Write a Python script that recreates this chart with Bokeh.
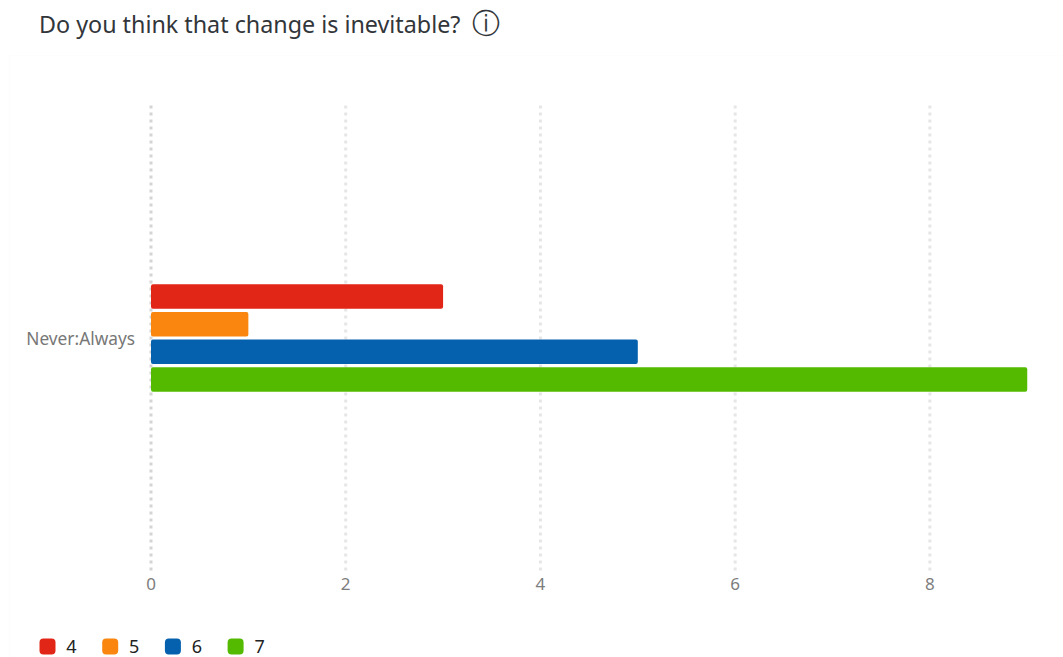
from bokeh.embed import file_html
from bokeh.models import BoxAnnotation, Label, Range1d
from bokeh.plotting import figure
from bokeh.resources import INLINE

# Survey responses for the single slider question
question = "Do you think that change is inevitable?"
category = "Never:Always"
series_names = ["4", "5", "6", "7"]
counts = [3, 1, 5, 9]
colors = ["#E12517", "#FA860F", "#0560AE", "#53BA00"]
x_ticks = [0, 2, 4, 6, 8]

FONT = "Noto Sans"
WIDTH, HEIGHT = 1063, 657

# The plot area fills the page; axes sit inside it at fixed locations.
PX_PER_UNIT = 97.36
ORIGIN_X, CENTER_Y = 150.5, 337.5
GRID_TOP, GRID_BOTTOM = 103, 570
BAR_HEIGHT = 24.5
BAR_STEP = 27.7


def from_top(y):
    """Screen-unit annotations measure y upward from the page bottom."""
    return HEIGHT - y


p = figure(
    width=WIDTH, height=HEIGHT,
    x_range=Range1d(-ORIGIN_X / PX_PER_UNIT, (WIDTH - ORIGIN_X) / PX_PER_UNIT),
    y_range=Range1d(CENTER_Y - HEIGHT, CENTER_Y),
    output_backend="svg", toolbar_location=None,
    min_border=0, outline_line_color=None,
)
p.grid.visible = False

# Faint panel edge behind the chart
p.add_layout(BoxAnnotation(
    left=9, right=1080, top=from_top(55), bottom=-20,
    left_units="screen", right_units="screen", top_units="screen", bottom_units="screen",
    fill_color=None, line_color="#f7f7f7", line_width=1.5, level="underlay",
))

# Dotted vertical guides, with a slightly darker one at zero
guide_colors = ["#d4d4d4" if t == 0 else "#e6e6e6" for t in x_ticks]
p.segment(
    x0=x_ticks, x1=x_ticks,
    y0=[CENTER_Y - GRID_BOTTOM] * len(x_ticks), y1=[CENTER_Y - GRID_TOP] * len(x_ticks),
    line_color=guide_colors, line_width=3, line_dash="3 4", level="underlay",
)

# One horizontal bar per response value, stacked down from the top
for i, (count, color) in enumerate(zip(counts, colors)):
    p.hbar(
        y=[(1.5 - i) * BAR_STEP], right=[count], left=0, height=BAR_HEIGHT,
        fill_color=color, line_color=None, border_radius=2,
    )

# Axes: labels only
p.xaxis.fixed_location = CENTER_Y - GRID_BOTTOM
p.xaxis.ticker = x_ticks
p.xaxis.axis_line_color = None
p.xaxis.major_tick_line_color = None
p.xaxis.minor_tick_line_color = None
p.xaxis.major_label_standoff = 1
p.xaxis.major_label_text_font = FONT
p.xaxis.major_label_text_font_size = "17px"
p.xaxis.major_label_text_color = "#7d7d7d"

p.yaxis.fixed_location = -10 / PX_PER_UNIT
p.yaxis.ticker = [0]
p.yaxis.major_label_overrides = {0: category}
p.yaxis.axis_line_color = None
p.yaxis.major_tick_line_color = None
p.yaxis.minor_tick_line_color = None
p.yaxis.major_label_standoff = 0
p.yaxis.major_label_text_font = FONT
p.yaxis.major_label_text_font_size = "17.3px"
p.yaxis.major_label_text_color = "#777777"

# Legend row with rounded swatches
for i, (name, color) in enumerate(zip(series_names, colors)):
    left = 39 + i * 62.7
    p.add_layout(BoxAnnotation(
        left=left, right=left + 16, top=from_top(638), bottom=from_top(654),
        left_units="screen", right_units="screen", top_units="screen", bottom_units="screen",
        fill_color=color, fill_alpha=1, line_color=None, border_radius=4,
    ))
    p.add_layout(Label(
        x=left + 32, y=from_top(646), x_units="screen", y_units="screen", text=name,
        text_font=FONT, text_font_size="18px", text_color="#222222",
        text_baseline="middle", text_align="center",
    ))

# Question heading and info icon
p.add_layout(Label(
    x=38.5, y=from_top(23.5), x_units="screen", y_units="screen", text=question,
    text_font=FONT, text_font_size="23.3px", text_color="#32363a", text_baseline="middle",
))
p.add_layout(Label(
    x=485.5, y=from_top(23), x_units="screen", y_units="screen", text="\u24d8",
    text_font="DejaVu Sans", text_font_size="28px", text_color="#32363a",
    text_baseline="middle", text_align="center",
))

open("out.html", "w").write(file_html(p, INLINE))
